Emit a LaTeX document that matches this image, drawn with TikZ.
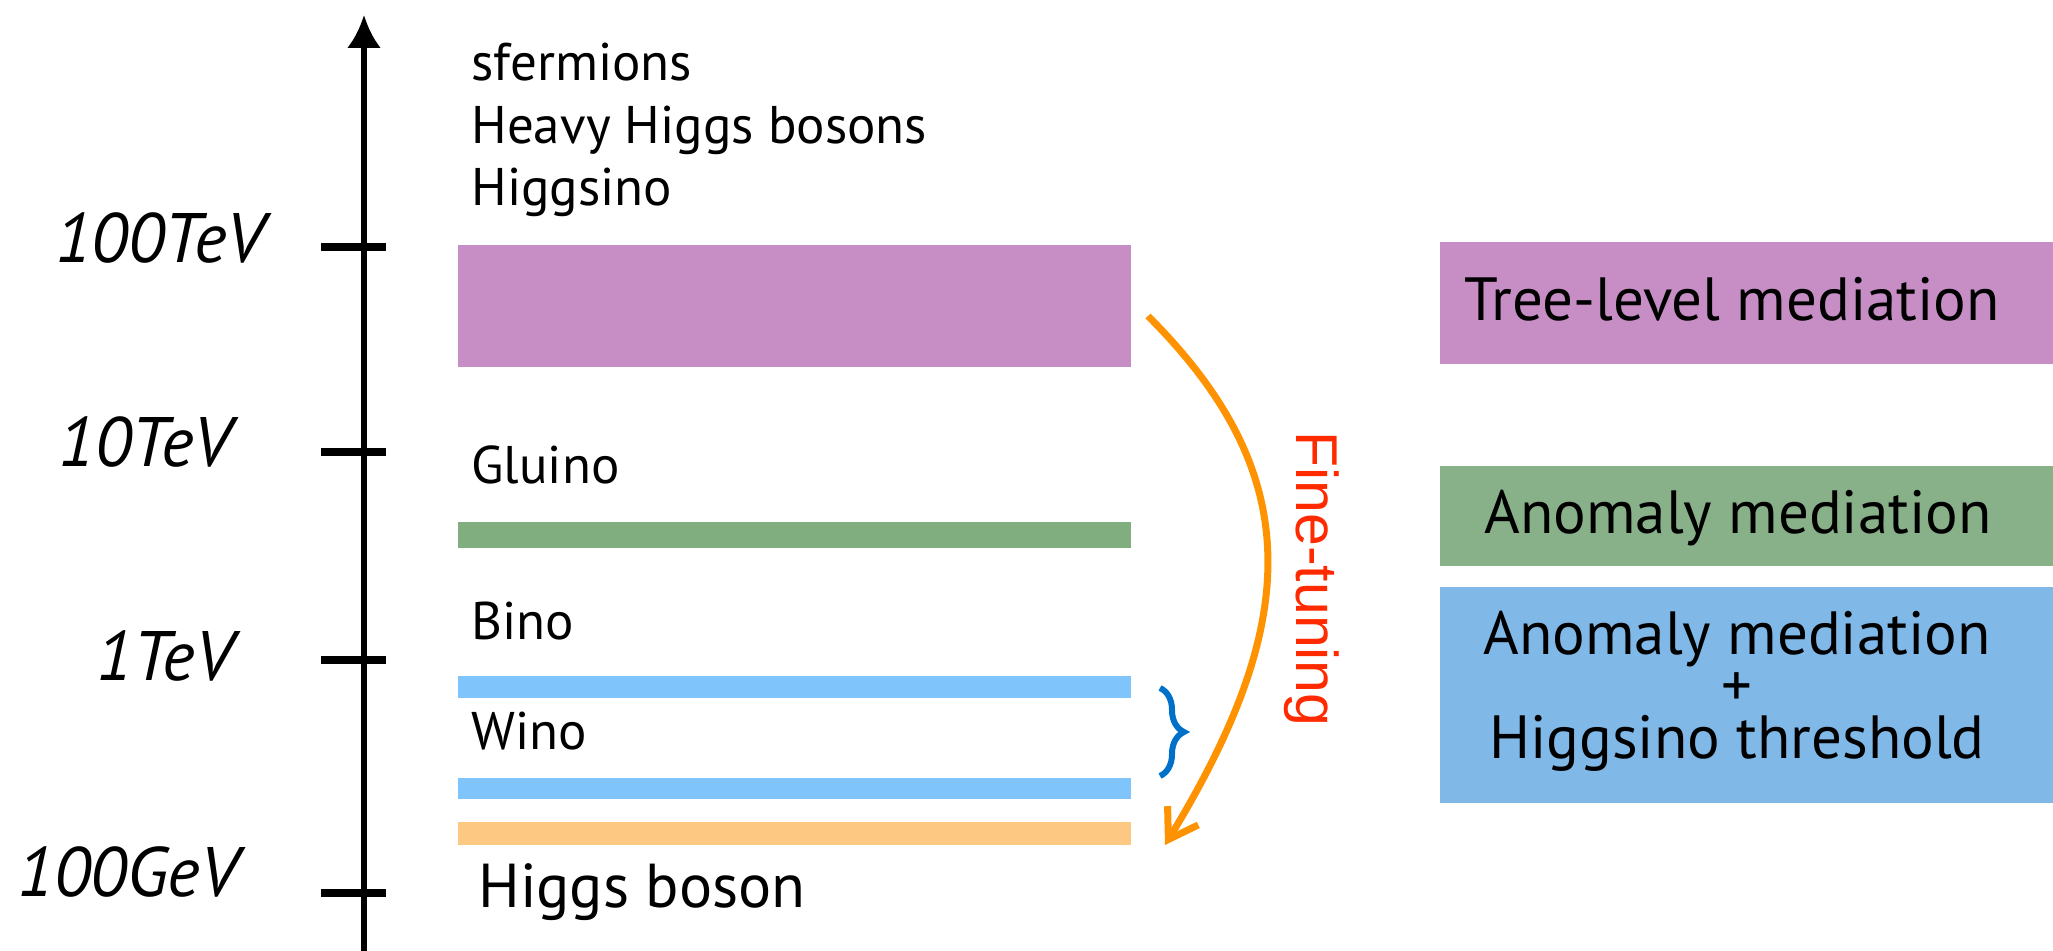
\documentclass[tikz,border=0pt]{standalone}
\usepackage{fontspec}
\setmainfont{PT Sans}
\newfontfamily\ftfont{Liberation Sans}
\usetikzlibrary{arrows.meta,decorations.pathreplacing}
\definecolor{purp}{RGB}{199,142,198}
\definecolor{greenbar}{RGB}{128,174,126}
\definecolor{greenbox}{RGB}{136,177,137}
\definecolor{bluebar}{RGB}{128,196,252}
\definecolor{bluebox}{RGB}{128,184,232}
\definecolor{orangebar}{RGB}{253,200,130}
\definecolor{arrorange}{RGB}{255,146,0}
\definecolor{ftred}{RGB}{255,42,0}
\definecolor{brblue}{RGB}{0,112,200}
\begin{document}
\begin{tikzpicture}[x=0.5pt,y=-0.5pt,
  lbl/.style={anchor=base west, inner sep=0pt, font=\fontsize{26.5}{32}\selectfont},
  axl/.style={anchor=base, inner sep=0pt, font=\itshape\fontsize{35}{40}\selectfont},
  boxtxt/.style={anchor=base, inner sep=0pt, font=\fontsize{30.5}{36}\selectfont},
  bar/.style={anchor=north west, inner sep=0pt, outer sep=0pt, draw=none, minimum width=336.5pt},
  rbox/.style={anchor=north west, inner sep=0pt, outer sep=0pt, draw=none, minimum width=306.5pt},
  tickmark/.style={line width=4pt},
]
\useasboundingbox (0,0) rectangle (2053,951);
% axis
\coordinate (axbot) at (364,951);
\coordinate (axtop) at (364,15);
\draw[line width=3pt, -{Latex[length=16.5pt,width=17pt]}] (axbot) -- (axtop);
\draw[tickmark] (321,247) -- (386,247);
\draw[tickmark] (321,452) -- (386,452);
\draw[tickmark] (321,660) -- (386,660);
\draw[tickmark] (321,893) -- (386,893);
\node[axl] (l100tev) at (160,263) {100TeV};
\node[axl] (l10tev) at (145,467) {10TeV};
\node[axl] (l1tev) at (165,681) {1TeV};
\node[axl] (l100gev) at (128,897) {100GeV};
% bars
\node[bar, fill=purp, minimum height=61pt] (treebar) at (458,245) {};
\node[bar, fill=greenbar, minimum height=13pt] (gluinobar) at (458,522) {};
\node[bar, fill=bluebar, minimum height=11pt] (binobar) at (458,676) {};
\node[bar, fill=bluebar, minimum height=10.5pt] (winobar) at (458,778) {};
\node[bar, fill=orangebar, minimum height=11.5pt] (higgsbar) at (458,822) {};
% labels
\node[lbl] (sferm) at (471,81) {sfermions};
\node[lbl] (heavy) at (471,144) {Heavy Higgs bosons};
\node[lbl] (higgsino) at (471,206) {Higgsino};
\node[lbl] (gluino) at (471,484) {Gluino};
\node[lbl] (bino) at (471,640) {Bino};
\node[lbl] (wino) at (471,750) {Wino};
\node[lbl, font=\fontsize{31}{36}\selectfont] (higgs) at (478,907) {Higgs boson};
% right boxes
\node[rbox, fill=purp, minimum height=61pt] (treebox) at (1440,242) {};
\node[rbox, fill=greenbox, minimum height=50pt] (anobox) at (1440,466) {};
\node[rbox, fill=bluebox, minimum height=108pt] (hbox) at (1440,587) {};
\node[boxtxt] (t1) at (1732,321) {Tree-level mediation};
\node[boxtxt] (t2) at (1738,534) {Anomaly mediation};
\node[boxtxt, align=center, font={\fontsize{30.5}{26}\selectfont\lineskiplimit=-100pt}] (t3) at (1737,759) {Anomaly mediation\\+\\Higgsino threshold};
% brace
\coordinate (brtop) at (1160,688);
\coordinate (brbot) at (1160,776);
\draw[brblue, line width=3pt, decorate, decoration={brace, amplitude=12pt}] (brtop) -- (brbot);
% fine-tuning arrow
\coordinate (ftstart) at (1148,316);
\coordinate (ftend) at (1165,845);
\draw[arrorange, line width=3.5pt, -{Straight Barb[length=14pt,width=18pt]}] (ftstart) .. controls (1304,472) and (1304,617) .. (ftend);
\node[rotate=-90, text=ftred, inner sep=0pt, font=\ftfont\fontsize{29.5}{34}\selectfont] (ft) at (1312,579) {Fine-tuning};
\end{tikzpicture}
\end{document}
